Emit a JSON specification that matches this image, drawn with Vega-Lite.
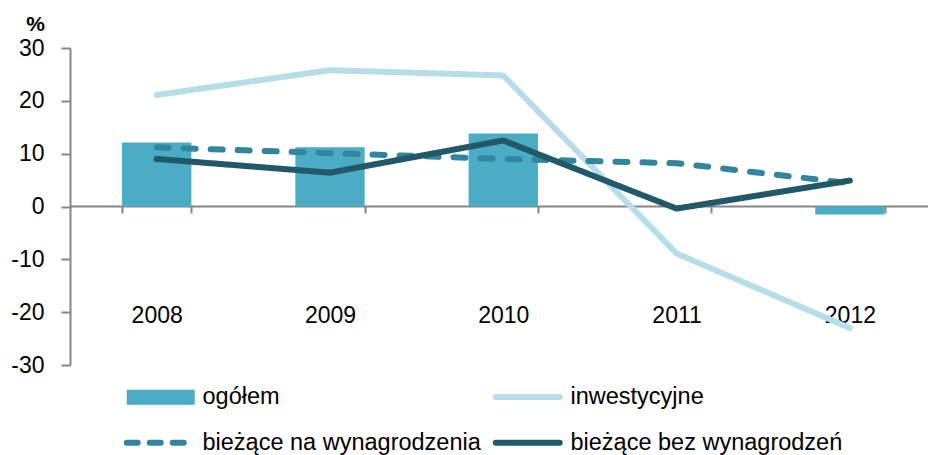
{
  "$schema": "https://vega.github.io/schema/vega-lite/v6.json",
  "width": 858,
  "height": 317,
  "autosize": {"type": "none"},
  "padding": {"left": 70, "top": 48, "right": 0, "bottom": 90},
  "background": "white",
  "config": {
    "view": {"stroke": null},
    "font": "Liberation Sans",
    "axis": {"labelFont": "Liberation Sans", "labelColor": "#000000", "grid": false}
  },
  "data": {
    "values": [
      {"rok": "2008", "seria": "ogółem", "wartosc": 12.1},
      {"rok": "2009", "seria": "ogółem", "wartosc": 11.2},
      {"rok": "2010", "seria": "ogółem", "wartosc": 13.8},
      {"rok": "2011", "seria": "ogółem", "wartosc": 0.0},
      {"rok": "2012", "seria": "ogółem", "wartosc": -1.5},
      {"rok": "2008", "seria": "inwestycyjne", "wartosc": 21.1},
      {"rok": "2009", "seria": "inwestycyjne", "wartosc": 25.8},
      {"rok": "2010", "seria": "inwestycyjne", "wartosc": 24.8},
      {"rok": "2011", "seria": "inwestycyjne", "wartosc": -8.9},
      {"rok": "2012", "seria": "inwestycyjne", "wartosc": -23.0},
      {"rok": "2008", "seria": "bieżące na wynagrodzenia", "wartosc": 11.2},
      {"rok": "2009", "seria": "bieżące na wynagrodzenia", "wartosc": 10.1},
      {"rok": "2010", "seria": "bieżące na wynagrodzenia", "wartosc": 9.0},
      {"rok": "2011", "seria": "bieżące na wynagrodzenia", "wartosc": 8.2},
      {"rok": "2012", "seria": "bieżące na wynagrodzenia", "wartosc": 4.4},
      {"rok": "2008", "seria": "bieżące bez wynagrodzeń", "wartosc": 9.0},
      {"rok": "2009", "seria": "bieżące bez wynagrodzeń", "wartosc": 6.4},
      {"rok": "2010", "seria": "bieżące bez wynagrodzeń", "wartosc": 12.5},
      {"rok": "2011", "seria": "bieżące bez wynagrodzeń", "wartosc": -0.4},
      {"rok": "2012", "seria": "bieżące bez wynagrodzeń", "wartosc": 4.9}
    ]
  },
  "encoding": {
    "x": {
      "field": "rok",
      "type": "nominal",
      "scale": {"paddingInner": 0.6, "paddingOuter": 0.2755, "align": 0.545},
      "axis": {
        "orient": "bottom",
        "offset": -159,
        "title": null,
        "labelAngle": 0,
        "domainColor": "#868686",
        "domainWidth": 2,
        "tickColor": "#868686",
        "tickWidth": 2,
        "tickSize": 7,
        "tickBand": "extent",
        "labelPadding": 102,
        "labelBaseline": "middle",
        "labelFontSize": 23
      }
    },
    "y": {
      "field": "wartosc",
      "type": "quantitative",
      "scale": {"domain": [-30, 30], "nice": false, "zero": false},
      "axis": {
        "values": [-30, -20, -10, 0, 10, 20, 30],
        "labelExpr": "datum.value < 0 ? '-' + abs(datum.value) : '' + datum.value",
        "title": "%",
        "titleAngle": 0,
        "titleX": -35,
        "titleY": -18,
        "titleAlign": "center",
        "titleBaseline": "alphabetic",
        "titleFontWeight": "bold",
        "titleFontSize": 21,
        "titleFont": "Liberation Sans",
        "titleColor": "#000000",
        "domainColor": "#868686",
        "domainWidth": 2,
        "tickColor": "#868686",
        "tickWidth": 2,
        "tickSize": 9,
        "labelPadding": 17,
        "labelFontSize": 23
      }
    },
    "color": {
      "field": "seria",
      "type": "nominal",
      "scale": {
        "domain": ["ogółem", "inwestycyjne", "bieżące na wynagrodzenia", "bieżące bez wynagrodzeń"],
        "range": ["#4BACC6", "#B7DEE8", "#31859C", "#215968"]
      },
      "legend": {
        "orient": "none",
        "direction": "horizontal",
        "legendX": 52,
        "legendY": 337,
        "columns": 2,
        "gridAlign": "all",
        "title": null,
        "symbolSize": 6400,
        "symbolStrokeWidth": 6,
        "labelOffset": 57,
        "labelFontSize": 23.5,
        "labelFont": "Liberation Sans",
        "labelColor": "#000000",
        "labelLimit": 400,
        "columnPadding": 2,
        "rowPadding": 21,
        "encode": {
          "symbols": {
            "update": {
              "shape": {"signal": "datum.value === 'ogółem' ? 'M-0.175,-0.1875H1.525V0.1875H-0.175Z' : datum.value === 'bieżące na wynagrodzenia' ? 'M-0.175,0H1.275' : 'M-0.15,0H1.45'"},
              "fill": {"signal": "datum.value === 'ogółem' ? '#4BACC6' : 'transparent'"},
              "stroke": {"signal": "datum.value === 'ogółem' ? 'transparent' : datum.value === 'inwestycyjne' ? '#B7DEE8' : datum.value === 'bieżące na wynagrodzenia' ? '#31859C' : '#215968'"},
              "strokeWidth": {"signal": "datum.value === 'ogółem' ? 0 : 6"},
              "strokeDash": {"signal": "datum.value === 'bieżące na wynagrodzenia' ? [11, 12] : [1, 0]"},
              "strokeCap": {"value": "round"},
              "opacity": {"value": 1}
            }
          }
        }
      }
    }
  },
  "layer": [
    {
      "transform": [{"filter": "datum.seria === 'ogółem'"}],
      "mark": {"type": "bar"}
    },
    {
      "transform": [{"filter": "datum.seria !== 'ogółem'"}],
      "mark": {"type": "line", "strokeWidth": 6, "strokeCap": "round", "strokeJoin": "round"},
      "encoding": {
        "strokeDash": {
          "field": "seria",
          "type": "nominal",
          "scale": {
            "domain": ["inwestycyjne", "bieżące na wynagrodzenia", "bieżące bez wynagrodzeń"],
            "range": [[1, 0], [12, 15], [1, 0]]
          },
          "legend": null
        }
      }
    }
  ]
}
